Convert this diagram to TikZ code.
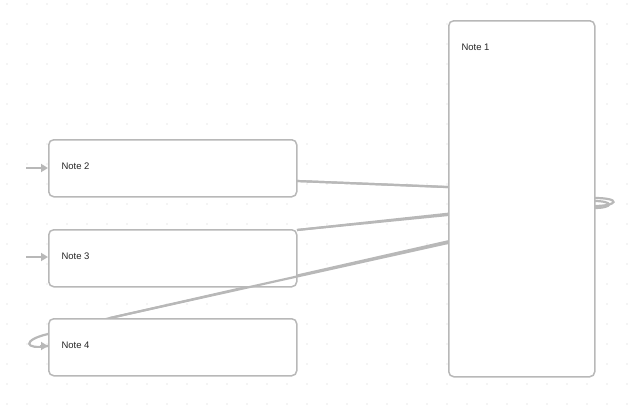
\documentclass[tikz,border=0pt]{standalone}
\usepackage{fontspec}
\setmainfont{Liberation Sans}
\usetikzlibrary{arrows.meta}
\begin{document}
\begin{tikzpicture}[x=1pt,y=-1pt,
  note/.style={draw=black!28,line width=1.5pt,rounded corners=5pt,fill=white,anchor=north west,inner sep=0pt},
  lbl/.style={anchor=west,font=\fontsize{9.5}{11}\selectfont,text=black!85},
  conn/.style={draw=black!28,line width=2.2pt},
  tip/.style={conn,-{Triangle[length=7pt,width=8pt]}}]
\useasboundingbox (0,0) rectangle (640,415);
\foreach \i in {0,...,31} \foreach \j in {0,...,20}
  \fill[black!18] (7+20*\i,4+20*\j) circle (0.6);
% connectors (beneath notes)
\coordinate (r2) at (594,198); \coordinate (r3) at (594,203); \coordinate (r4) at (594,208);
\draw[conn] (r2) .. controls (622,198) and (618,206) .. (594,206);
\draw[conn] (594,201) .. controls (614,201) and (614,208) .. (594,208);
\draw[conn] (520,190) -- (297,181);
\draw[conn] (520,206) -- (297,230);
\draw[conn] (520,225) -- (110,318);
\draw[conn] (110,318) -- (48,334) .. controls (22,340) and (24,350) .. (48,346);
% notes
\node[note,minimum width=146pt,minimum height=356pt] (n1) at (448,20) {};
\node[lbl] at (458,47) {Note 1};
\node[note,minimum width=248pt,minimum height=57pt] (n2) at (48,139) {};
\node[lbl] at (58,166) {Note 2};
\node[note,minimum width=248pt,minimum height=57pt] (n3) at (48,229) {};
\node[lbl] at (58,256) {Note 3};
\node[note,minimum width=248pt,minimum height=57pt] (n4) at (48,318) {};
\node[lbl] at (58,345) {Note 4};
\draw[conn] (297,181) -- (448,187);
\draw[conn] (297,230) -- (448,215);
\draw[conn] (110,318) -- (448,243);
\coordinate (a2) at (26,168); \coordinate (a3) at (26,257);
\draw[tip] (a2) -- (n2.west|-a2);
\draw[tip] (a3) -- (n3.west|-a3);
\draw[tip] (40,346) -- (n4.west|-40,346);
\end{tikzpicture}
\end{document}
